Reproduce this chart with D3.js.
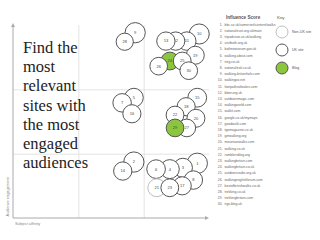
<!DOCTYPE html>
<html>
<head>
<meta charset="utf-8">
<script src="https://cdn.jsdelivr.net/npm/d3@7"></script>
<style>
  body { margin: 0; background: #fff; }
  svg { display: block; }
</style>
</head>
<body>
<svg id="chart" width="320" height="240"></svg>
<script>
// sites, ranked by influence score (list order = id)
let siteNames = [
  "bbc.co.uk/somerset/content/walks",
  "nationaltrust.org.uk/main",
  "tripadvisor.co.uk/walking",
  "visitbath.org.uk",
  "bathnewseum.gov.uk",
  "walking.about.com",
  "ntrg.co.uk",
  "nationaltrail.co.uk",
  "walking-britainhols.com",
  "walkingox.net",
  "footpathsofwales.com",
  "bbwr.org.uk",
  "outdoorsmagic.com",
  "walkingworld.com",
  "walkit.com",
  "google.co.uk/mymaps",
  "goodwalk.com",
  "tgomagazine.co.uk",
  "getwalking.org",
  "mountainwalks.com",
  "walking.co.uk",
  "ramblersblog.org",
  "walkingbritain.com",
  "walkingbritain.co.uk",
  "outdoorsradio.org.uk",
  "walkingenglishforum.com",
  "bestofbritishwalks.co.uk",
  "trekking.co.uk",
  "trekkingbritain.com",
  "ngs.blog.uk"
];
let siteIds = d3.range(1, 31);
// subject affinity (x) and audience engagement (y), 0-3 each
let affinity =   [2.82,1.85,2.60,2.40,1.85,2.19,1.67,2.76,1.87,2.85,2.66,2.49,2.34,1.68,2.82,1.82,2.59,2.65,2.79,2.80,2.20,2.48,2.40,2.40,2.59,2.23,2.66,1.71,2.48,2.69];
let engagement = [0.85,0.87,0.78,0.76,1.87,0.76,1.79,0.59,2.88,2.86,2.75,2.75,2.75,0.73,1.87,1.62,0.50,1.73,2.53,1.55,0.47,1.60,0.47,2.44,2.44,2.36,1.40,2.74,1.40,2.29];
let influence =  [96,95,88,87,86,85,84,84,95,94,84,83,83,83,86,82,82,82,81,81,80,80,80,80,80,79,79,76,79,79];
let siteType = ["uk","uk","uk","uk","uk","uk","uk","uk","uk","uk","uk","uk","uk","uk","uk","uk","uk","uk","uk","uk","nonuk","uk","uk","blog","uk","uk","uk","uk","blog","uk"];
let titleLines = ["Find the", "most", "relevant", "sites with", "the most", "engaged", "audiences"];
let keyItems = [{type: "nonuk", label: "Non-UK site"}, {type: "uk", label: "UK site"}, {type: "blog", label: "Blog"}];

let svg = d3.select("#chart");

let x = d3.scaleLinear().domain([0, 3]).range([13, 209]);
let y = d3.scaleLinear().domain([0, 3]).range([218, 25]);
let r = d3.scaleLinear().domain([76, 96]).range([8.6, 10.2]);

let stroke = {nonuk: "#bdbdbd", uk: "#555", blog: "#555"};
let fill = {nonuk: "#fff", uk: "#fff", blog: "#8cc63e"};

// gridlines
let gridX = svg.append("g")
  .attr("transform", "translate(0," + y(0) + ")")
  .call(d3.axisBottom(x).tickValues([1, 2]).tickSize(-(y(0) - y(3))).tickFormat(""));
let gridY = svg.append("g")
  .attr("transform", "translate(" + x(0) + ",0)")
  .call(d3.axisLeft(y).tickValues([1, 2]).tickSize(-(x(3) - x(0))).tickFormat(""));
[gridX, gridY].forEach(g => {
  g.select(".domain").remove();
  g.selectAll(".tick line").attr("stroke", "#e3e3e3").attr("stroke-width", 1);
});

// axes lines with arrows
svg.append("defs").append("marker")
  .attr("id", "arr").attr("viewBox", "0 0 6 6").attr("refX", 3).attr("refY", 3)
  .attr("markerWidth", 4).attr("markerHeight", 4).attr("orient", "auto")
  .append("path").attr("d", "M0,0L6,3L0,6Z").attr("fill", "#aaa");

svg.append("line")
  .attr("x1", x(0)).attr("y1", y(0)).attr("x2", x(0)).attr("y2", y(3))
  .attr("stroke", "#aaa").attr("stroke-width", 1).attr("marker-end", "url(#arr)");
svg.append("line")
  .attr("x1", x(0)).attr("y1", y(0)).attr("x2", x(2.97)).attr("y2", y(0))
  .attr("stroke", "#aaa").attr("stroke-width", 1).attr("marker-end", "url(#arr)");

svg.append("text")
  .attr("transform", "translate(9," + (y(0) - 21) + ") rotate(-90)")
  .attr("text-anchor", "middle")
  .attr("font-family", "Liberation Sans, Arial, sans-serif")
  .attr("font-size", 3.9).attr("fill", "#888")
  .text("Audience engagement");
svg.append("text")
  .attr("x", 15).attr("y", 225)
  .attr("font-family", "Liberation Sans, Arial, sans-serif")
  .attr("font-size", 3.9).attr("fill", "#888")
  .text("Subject affinity");

// title
svg.append("g").selectAll("text")
  .data(titleLines)
  .enter().append("text")
  .attr("x", 23)
  .attr("y", (d, i) => 53 + i * 19.2)
  .attr("font-family", "Liberation Serif, Times New Roman, serif")
  .attr("font-size", 16.5)
  .attr("fill", "#222")
  .text(d => d);

// bubbles
let sites = siteIds.map((id, i) => ({id: id, name: siteNames[i], ax: affinity[i], en: engagement[i], score: influence[i], type: siteType[i]}));

let nodes = svg.append("g").selectAll("g")
  .data(sites)
  .enter().append("g")
  .attr("transform", d => "translate(" + x(d.ax) + "," + y(d.en) + ")");
nodes.append("circle")
  .attr("r", d => r(d.score))
  .attr("fill", d => fill[d.type])
  .attr("stroke", d => stroke[d.type])
  .attr("stroke-width", 1);
nodes.append("text")
  .attr("text-anchor", "middle").attr("dy", "0.35em")
  .attr("font-family", "Liberation Sans, Arial, sans-serif")
  .attr("font-size", 4).attr("fill", "#444")
  .text(d => d.id);

// influence score list
svg.append("text")
  .attr("x", 226).attr("y", 19)
  .attr("font-family", "Liberation Sans, Arial, sans-serif")
  .attr("font-size", 4.6).attr("font-weight", "bold").attr("fill", "#555")
  .text("Influence Score");

let list = svg.append("g").selectAll("g")
  .data(sites)
  .enter().append("g")
  .attr("transform", (d, i) => "translate(0," + (25.5 + i * 6.2) + ")");
list.append("text")
  .attr("x", 222.5).attr("text-anchor", "end")
  .attr("font-family", "Liberation Sans, Arial, sans-serif")
  .attr("font-size", 3.4).attr("fill", "#666")
  .text(d => d.id + ".");
list.append("text")
  .attr("x", 224.5)
  .attr("font-family", "Liberation Sans, Arial, sans-serif")
  .attr("font-size", 3.4).attr("fill", "#666")
  .text(d => d.name);

// key
svg.append("text")
  .attr("x", 277).attr("y", 19)
  .attr("font-family", "Liberation Sans, Arial, sans-serif")
  .attr("font-size", 4.4).attr("fill", "#555")
  .text("Key");
let key = svg.append("g").selectAll("g")
  .data(keyItems)
  .enter().append("g")
  .attr("transform", (d, i) => "translate(282," + (32 + i * 18) + ")");
key.append("circle")
  .attr("r", 6)
  .attr("fill", d => fill[d.type])
  .attr("stroke", d => stroke[d.type])
  .attr("stroke-width", 1);
key.append("text")
  .attr("x", 10).attr("dy", "0.35em")
  .attr("font-family", "Liberation Sans, Arial, sans-serif")
  .attr("font-size", 3.6).attr("fill", "#555")
  .text(d => d.label);
</script>
</body>
</html>
